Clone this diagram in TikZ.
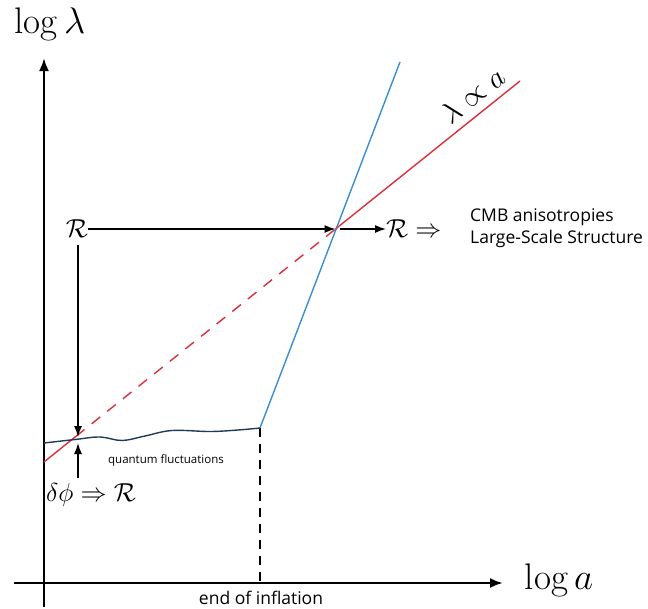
\documentclass[tikz,border=0pt]{standalone}
\usepackage{fix-cm}
\usepackage{fontspec}
\setsansfont{Open Sans}
\usetikzlibrary{arrows.meta}
\definecolor{cred}{HTML}{D9303C}
\definecolor{cblue}{HTML}{3B8ED0}
\definecolor{cnavy}{HTML}{1F3A5C}
\begin{document}
\begin{tikzpicture}[x=1pt,y=-1pt,
  axis/.style={line width=2.4pt,-{Latex[length=13pt,width=10pt]}},
  arr/.style={line width=1.4pt,-{Latex[length=11pt,width=8pt]}},
  mathlbl/.style={inner sep=0pt,font=\fontsize{26}{28}\selectfont},
  biglbl/.style={inner sep=0pt,font=\fontsize{37}{39}\selectfont},
  sanslbl/.style={inner sep=0pt,font=\sffamily\fontsize{17.5}{22}\selectfont,align=left},
  smalllbl/.style={inner sep=0pt,font=\sffamily\fontsize{11.5}{14}\selectfont}]
\useasboundingbox (0,0) rectangle (648,608);
% coordinates
\coordinate (ybot) at (44,607);
\coordinate (ytop) at (44,58);
\coordinate (xleft) at (14,583);
\coordinate (xright) at (503,583);
\coordinate (endinf) at (260,428);
\coordinate (endinfax) at (260,583);
\coordinate (bluetop) at (400,62);
\coordinate (redstart) at (44,462);
\coordinate (redcross) at (76,436.3);
\coordinate (cross) at (335.5,229);
\coordinate (redend) at (520,81);
% labels
\node[biglbl] (ylab) at (50,24) {$\log\lambda$};
\node[biglbl] (xlab) at (559,580) {$\log a$};
\node[sanslbl,anchor=base] (eoi) at (261,604) {end of inflation};
\node[smalllbl] (qf) at (166,460) {quantum fluctuations};
\node[mathlbl] (R1) at (77,229) {$\mathcal{R}$};
\node[mathlbl,anchor=west] (R2) at (386,229) {$\mathcal{R}\Rightarrow$};
\node[sanslbl,anchor=base west] (cmb) at (470,243) {CMB anisotropies\\Large-Scale Structure};
\node[mathlbl,anchor=west] (dphi) at (46,495) {$\delta\phi\Rightarrow\mathcal{R}$};
% axes
\draw[axis] (ybot) -- (ytop);
\draw[axis] (xleft) -- (xright);
\draw[line width=1.3pt,dash pattern=on 9pt off 7pt] (endinf) -- (endinfax);
% curves
\draw[cblue,line width=1.4pt] (endinf) -- (bluetop);
\draw[cred,line width=1.4pt] (redstart) -- (redcross);
\draw[cred,line width=1.4pt,dash pattern=on 11pt off 9pt] (redcross) -- (cross);
\draw[cred,line width=1.4pt] (cross) -- (redend);
\path (redstart) -- (redend) node[pos=0.925,sloped,above=8pt,inner sep=0pt,font=\fontsize{30}{32}\selectfont] (prop) {$\lambda\propto a$};
\draw[cnavy,line width=1.4pt] plot[smooth,tension=0.6] coordinates {(44,443) (75,439.5) (100,437) (122,440.5) (145,436) (172,430.5) (210,431.5) (238,430) (260,428)};
% arrows
\draw[arr] (R1.east) -- (R1.east -| cross);
\draw[arr] (cross) ++(4,0) coordinate (c2) (c2) -- (R2.west);
\draw[arr] (78,245) -- (78,437);
\draw[arr] (78,478) -- (78,443);
\end{tikzpicture}
\end{document}
